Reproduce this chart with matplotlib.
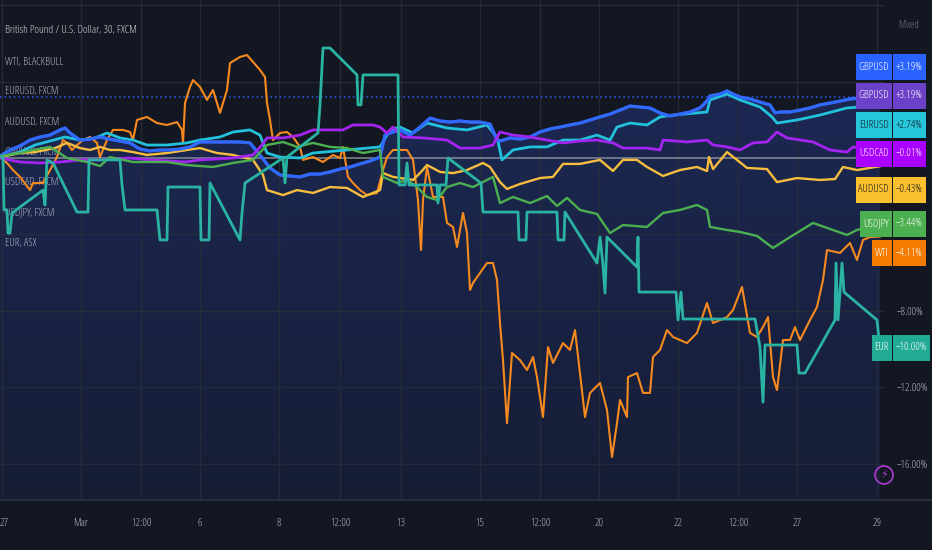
import numpy as np
import matplotlib
matplotlib.use("Agg")
import matplotlib.pyplot as plt
from matplotlib.patches import Rectangle, Ellipse
from matplotlib.lines import Line2D
from matplotlib.colors import to_rgb

# ---------------- data (bar index, % change) ----------------
gbpusd = [(0,0.10),(10,0.42),(20,0.63),(30,0.94),(40,1.10),(50,1.20),(60,1.47),(65,1.57),(70,1.31),
          (80,0.94),(90,0.99),(100,1.10),(110,0.99),(120,0.89),(130,0.79),(140,0.47),(150,0.37),(160,0.42),
          (170,0.42),(180,0.47),(190,0.58),(200,0.84),(210,0.84),(220,0.84),(230,0.84),(240,0.84),(250,0.79),
          (260,0.16),(270,-0.52),(280,-0.89),(290,-0.94),(300,-0.99),(310,-0.84),(320,-0.84),(330,-0.73),
          (340,-0.58),(350,-0.47),(360,-0.31),(370,-0.16),(380,0.05),(385,1.20),(390,1.31),(400,1.47),
          (410,1.20),(420,1.62),(430,2.09),(440,1.94),(450,1.88),(460,1.94),(470,1.88),(480,1.88),(490,1.78),
          (497,0.94),(500,0.89),(510,1.05),(520,0.99),(530,1.10),(540,1.36),(550,1.52),(560,1.62),(570,1.73),
          (580,1.83),(590,1.99),(600,2.15),(610,2.30),(620,2.51),(630,2.72),(640,2.67),(650,2.62),(660,2.36),
          (670,2.20),(680,2.30),(690,2.41),(700,2.62),(708,3.04),(710,3.25),(720,3.35),(727,3.51),(735,3.30),
          (740,3.19),(750,3.09),(760,2.93),(770,2.78),(775,2.36),(780,2.41),(790,2.41),(800,2.51),(810,2.62),
          (820,2.78),(830,2.88),(840,2.98),(850,3.09),(860,3.14),(870,3.19),(880,3.19)]

eurusd = [(0,0.05),(20,0.31),(35,0.68),(50,0.89),(65,1.10),(80,0.94),(95,1.05),(107,1.31),(120,1.05),
          (133,0.94),(147,0.68),(167,0.68),(187,0.79),(200,0.94),(220,1.10),(233,1.36),(250,1.47),(260,1.20),
          (267,0.26),(280,0.05),(300,0.00),(313,0.26),(347,0.42),(380,0.58),(390,1.47),(400,1.62),(413,1.31),
          (427,1.83),(447,1.57),(467,1.47),(487,1.73),(497,1.10),(502,-0.10),(513,0.42),(530,0.58),(547,0.58),
          (563,0.94),(580,0.94),(597,1.20),(610,0.94),(617,1.62),(630,1.83),(647,1.73),(660,2.15),(673,2.25),
          (697,2.36),(707,2.41),(710,3.04),(727,3.35),(740,3.04),(760,2.67),(772,2.15),(777,1.83),(797,1.99),
          (820,2.25),(847,2.62),(860,2.67),(880,2.74)]

usdcad = [(0,0.00),(20,-0.21),(40,-0.26),(60,-0.21),(80,-0.10),(100,-0.10),(130,0.00),(150,-0.10),
          (170,-0.16),(185,-0.21),(200,-0.10),(233,0.00),(253,0.16),(262,0.68),(267,1.05),(283,1.05),
          (300,1.20),(313,1.47),(343,1.47),(353,1.73),(373,1.73),(380,1.62),(387,1.31),(393,1.62),(403,1.10),
          (423,1.05),(447,0.94),(460,0.52),(480,0.52),(493,0.68),(500,1.36),(513,1.20),(530,1.10),(547,0.94),
          (563,0.79),(580,0.89),(597,0.94),(613,0.79),(623,0.52),(647,0.52),(660,0.42),(663,0.94),(687,0.84),
          (707,0.94),(713,0.68),(727,0.58),(740,0.42),(753,0.79),(767,0.84),(777,1.36),(787,1.05),(813,0.84),
          (830,0.42),(847,0.31),(853,0.58),(865,0.42),(880,-0.01)]

audusd = [(0,0.05),(20,0.26),(35,0.31),(55,0.52),(67,0.79),(80,0.52),(90,0.42),(100,0.58),(110,0.42),
          (120,0.42),(133,0.31),(147,0.16),(167,0.26),(187,0.42),(200,0.52),(217,0.26),(233,0.16),(253,-0.10),
          (263,-0.89),(267,-1.68),(283,-1.94),(297,-1.68),(313,-1.83),(330,-1.52),(347,-1.57),(363,-2.04),
          (380,-1.68),(383,-0.79),(393,-0.99),(413,-1.15),(420,-0.79),(427,-0.37),(440,-0.73),(453,-0.79),
          (467,-0.63),(483,-0.26),(490,-0.47),(500,-1.26),(507,-1.62),(520,-1.36),(540,-1.05),(553,-0.99),
          (563,-0.31),(580,-0.31),(600,-0.10),(613,-0.68),(623,-0.10),(637,-0.10),(647,-0.47),(663,-0.94),
          (680,-0.63),(697,-0.47),(707,-0.68),(709,0.05),(713,-0.58),(727,0.31),(737,-0.10),(747,-0.52),
          (767,-0.58),(777,-1.26),(797,-1.05),(820,-1.15),(835,-1.10),(843,-0.47),(857,-0.63),(880,-0.43)]

usdjpy = [(0,0.10),(20,0.26),(33,0.42),(50,0.58),(67,0.00),(87,-0.21),(100,-0.42),(110,0.05),(133,-0.21),
          (167,-0.21),(187,-0.37),(213,-0.47),(233,-0.26),(253,-0.10),(267,0.68),(283,0.84),(297,0.58),
          (313,0.79),(330,0.58),(347,0.52),(363,0.26),(380,0.42),(383,-0.99),(397,-1.31),(407,-1.15),
          (417,-1.52),(427,-2.04),(437,-2.20),(447,-1.52),(460,-1.31),(473,-1.52),(487,-1.15),(493,-0.99),
          (500,-2.36),(513,-2.04),(530,-2.36),(547,-1.99),(557,-2.51),(567,-2.09),(580,-2.72),(597,-2.93),
          (610,-3.93),(623,-3.51),(647,-3.61),(663,-2.88),(680,-2.72),(697,-2.46),(707,-2.72),(710,-3.61),
          (727,-3.77),(740,-3.87),(757,-4.08),(773,-4.71),(787,-4.24),(813,-3.40),(833,-3.77),(847,-4.03),
          (857,-3.77),(880,-3.44)]

wti = [(0,0.05),(7,-0.26),(13,-0.63),(20,-0.99),(30,-1.68),(33,-1.31),(43,-1.31),(50,-0.63),(57,0.05),
       (63,0.94),(67,0.79),(72,0.42),(77,0.68),(83,0.94),(90,1.10),(97,0.79),(100,0.05),(107,0.94),
       (113,1.47),(123,1.47),(130,1.36),(133,0.94),(137,1.99),(147,2.15),(157,1.83),(167,1.73),(177,1.88),
       (182,1.47),(183,0.79),(185,2.88),(190,3.72),(193,4.08),(200,3.72),(207,3.04),(213,3.56),(220,2.36),
       (227,3.56),(230,4.97),(240,5.29),(247,5.39),(253,5.03),(260,4.61),(265,4.24),(267,2.88),(270,1.99),
       (273,0.94),(280,1.31),(287,1.36),(293,1.10),(300,0.58),(303,-0.10),(313,0.05),(323,-0.21),(333,0.16),
       (340,0.00),(343,0.58),(348,-0.99),(353,-1.31),(360,-1.68),(367,-1.94),(377,-1.83),(383,-0.63),
       (387,0.05),(393,0.42),(400,0.42),(407,0.42),(413,-0.10),(418,-2.20),(421,-4.82),(423,-2.20),
       (427,-0.47),(433,-2.04),(443,-2.04),(447,-3.40),(453,-3.61),(457,-4.66),(463,-2.88),(467,-3.93),
       (470,-6.91),(473,-6.54),(487,-5.50),(493,-5.50),(497,-6.39),(500,-8.64),(503,-10.58),(507,-13.88),
       (512,-10.21),(520,-10.58),(527,-11.10),(533,-10.42),(537,-11.47),(543,-13.56),(548,-9.90),
       (553,-10.73),(563,-9.69),(570,-10.05),(575,-9.01),(580,-11.26),(585,-13.56),(590,-12.30),
       (600,-11.78),(607,-13.19),(612,-15.66),(617,-13.88),(620,-12.67),(627,-13.56),(628,-11.47),
       (637,-11.26),(643,-12.30),(650,-12.30),(653,-10.42),(660,-10.05),(667,-9.01),(673,-9.37),(687,-9.69),
       (697,-9.16),(707,-7.59),(713,-8.64),(727,-8.33),(733,-7.96),(742,-6.75),(750,-9.16),(757,-9.37),
       (763,-8.85),(768,-8.33),(773,-11.47),(777,-12.15),(783,-9.53),(790,-9.53),(795,-8.85),(800,-9.53),
       (810,-8.48),(817,-7.80),(823,-6.39),(827,-4.82),(840,-4.97),(850,-4.45),(857,-5.34),(863,-4.29),
       (870,-4.14),(880,-4.11)]

eur_asx = [(0,0.05),(3,0.05),(4,-2.72),(7,-2.72),(8,-3.93),(10,-3.93),(12,-2.88),(43,-1.68),(45,-2.46),
           (47,-0.10),(53,-0.26),(77,-2.83),(88,-2.83),(89,-0.10),(120,-0.10),(122,-1.41),(125,-2.72),
           (157,-2.72),(160,-4.29),(167,-4.29),(168,-1.52),(200,-1.52),(201,-4.29),(209,-4.29),(210,-1.31),
           (240,-4.29),(242,-2.88),(245,-1.31),(283,0.00),(285,-1.31),(287,0.05),(318,1.31),(320,2.78),
           (323,5.76),(330,5.76),(357,4.35),(358,2.78),(361,2.78),(363,4.35),(398,4.35),(399,-1.41),
           (405,-1.41),(407,-0.26),(409,-1.41),(437,-1.41),(438,-2.36),(440,-1.41),(446,-1.41),(448,0.00),
           (481,-1.31),(483,-2.83),(518,-2.83),(519,-4.29),(526,-4.29),(527,-2.83),(557,-2.83),(558,-4.29),
           (564,-4.29),(565,-2.83),(597,-5.50),(600,-4.14),(603,-5.60),(605,-7.07),(607,-4.14),(637,-5.71),
           (638,-4.14),(639,-7.02),(676,-7.02),(678,-8.48),(681,-7.02),(683,-8.43),(755,-8.43),(760,-9.90),
           (763,-12.78),(765,-9.79),(797,-9.79),(799,-11.26),(805,-11.26),(835,-8.48),(836,-5.50),(838,-8.48),
           (842,-5.50),(844,-7.02),(877,-8.48),(880,-10.00)]

legend_titles = ["British Pound / U.S. Dollar, 30, FXCM", "WTI, BLACKBULL", "EURUSD, FXCM", "AUDUSD, FXCM",
                 "GBPUSD, FXCM", "USDCAD, FXCM", "USDJPY, FXCM", "EUR, ASX"]
x_tick_bars = [2, 81, 141, 200, 279, 340, 401, 480, 540, 599, 678, 738, 797, 877]
x_tick_labels = ["27", "Mar", "12:00", "6", "8", "12:00", "13", "15", "12:00", "20", "22", "12:00", "27", "29"]
y_tick_values = [-8, -12, -16]
grid_values = [8, 4, -4, -8, -12, -16]

# ---------------- layout / style ----------------
W, H = 932, 550
BG = '#131722'
FONT = dict(family='Open Sans', stretch='condensed', weight='medium')
ZERO_PX, PX_PER_PCT, PLOT_BOTTOM_PX, PLOT_RIGHT_PX = 158, 19.1, 500, 885
y_top = ZERO_PX / PX_PER_PCT
y_bot = (ZERO_PX - PLOT_BOTTOM_PX) / PX_PER_PCT

fig = plt.figure(figsize=(W / 100, H / 100), dpi=100)
fig.patch.set_facecolor(BG)
ax = fig.add_axes([0, (H - PLOT_BOTTOM_PX) / H, PLOT_RIGHT_PX / W, PLOT_BOTTOM_PX / H])
ax.set_facecolor(BG)
ax.set_xlim(0, PLOT_RIGHT_PX)
ax.set_ylim(y_bot, y_top)
for s in ax.spines.values():
    s.set_visible(False)

def split(series):
    a = np.array(series, dtype=float)
    return a[:, 0], a[:, 1]

gx, gy = split(gbpusd)

# area gradient under main series
poly = ax.fill_between(gx, gy, y_bot, facecolor='none', edgecolor='none')
t = np.linspace(0, 1, 256)[:, None, None]
c_top = np.array(to_rgb('#1e2b5a'))
c_bot = np.array(to_rgb('#161d35'))
img = c_top * (1 - t) + c_bot * t
im = ax.imshow(img, extent=[0, PLOT_RIGHT_PX, y_bot, y_top], aspect='auto', origin='upper', zorder=1)
im.set_clip_path(poly.get_paths()[0], transform=ax.transData)

# grid
for v in grid_values:
    ax.axhline(v, color='#2a2e39', lw=1, alpha=0.8, zorder=1.5)
for b in x_tick_bars:
    ax.axvline(b, color='#2a2e39', lw=1, alpha=0.8, zorder=1.5)
ax.axhline(0, color='#9598a1', lw=1.3, alpha=0.75, zorder=2)
ax.axhline(gy[-1], color='#2962ff', lw=1.1, ls=(0, (1, 2)), zorder=2)

# legend titles (drawn beneath the lines, as in the reference)
legend_rows = [30, 62, 91, 123, 152, 183, 213, 243]
for i, (txt, yy) in enumerate(zip(legend_titles, legend_rows)):
    ax.text(5 / W, 1 - yy / H, txt, transform=fig.transFigure, ha='left', va='center', fontsize=8,
            **FONT, color='#d1d4dc' if i == 0 else '#b2b5be', zorder=2.5, clip_on=False)

# lines
styles = [
    (wti, '#f68a1f', 1.5, 3),
    (eurusd, '#22c1dc', 2.0, 3.1),
    (audusd, '#f6bd3f', 1.7, 3.2),
    (gbpusd, '#6b41c9', 2.0, 3.3),
    (gbpusd, '#2f6bff', 2.3, 3.4),
    (usdcad, '#a424f0', 2.0, 3.5),
    (usdjpy, '#4caf50', 1.7, 3.6),
    (eur_asx, '#2ab3a2', 2.0, 3.7),
]
for series, col, lw, z in styles:
    x, y = split(series)
    ax.plot(x, y, color=col, lw=lw, zorder=z, solid_joinstyle='round')

# axes ticks
ax.set_xticks([])
ax.yaxis.tick_right()
ax.set_yticks(y_tick_values)
ax.set_yticklabels(["\u2212%.2f%%" % abs(v) for v in y_tick_values])
ax.tick_params(axis='y', length=0, pad=8.5, labelsize=8, labelcolor='#b2b5be')
for lab in ax.get_yticklabels():
    lab.set_family(FONT['family'])
    lab.set_stretch(FONT['stretch'])
    lab.set_weight(FONT['weight'])

# bottom separator and time labels
fig.add_artist(Line2D([0, 1], [(H - PLOT_BOTTOM_PX) / H] * 2, color='#2a2e39', lw=1.5))
for i, (b, lab) in enumerate(zip(x_tick_bars, x_tick_labels)):
    xf = ax.transData.transform((b, 0))[0] / W
    if i == 0:
        fig.text(0, 1 - 523 / H, lab, ha='left', va='center', color='#b2b5be', fontsize=8, **FONT)
    else:
        fig.text(xf, 1 - 523 / H, lab, ha='center', va='center', color='#b2b5be', fontsize=8, **FONT)

fig.text(898 / W, 1 - 25 / H, "Mixed", ha='left', va='center', fontsize=7.5, **FONT, color='#787b86')

# badges
def fmt(v):
    return ("+" if v >= 0 else "\u2212") + "%.2f%%" % abs(v)

badges = [
    ("GBPUSD", split(gbpusd)[1][-1], '#2962ff', 'white'),
    ("GBPUSD", split(gbpusd)[1][-1], '#6b41c9', 'white'),
    ("EURUSD", split(eurusd)[1][-1], '#26c6da', '#131722'),
    ("USDCAD", split(usdcad)[1][-1], '#aa00ff', 'white'),
    ("AUDUSD", split(audusd)[1][-1], '#fbc02d', '#131722'),
    ("USDJPY", split(usdjpy)[1][-1], '#4caf50', 'white'),
    ("WTI", split(wti)[1][-1], '#f57c00', 'white'),
    ("EUR", split(eur_asx)[1][-1], '#22ab94', 'white'),
]
badge_rows = [67, 96, 125, 154, 190, 224, 253, 348]
BH = 26
renderer = fig.canvas.get_renderer()
for (name, val, col, tcol), cy in zip(badges, badge_rows):
    yf = 1 - cy / H
    t1 = fig.text(889 / W, yf, name, ha='right', va='center', color=tcol, fontsize=8,
                  **FONT, zorder=31)
    bb = t1.get_window_extent(renderer)
    left = bb.x0 - 3
    fig.add_artist(Rectangle((left / W, yf - BH / 2 / H), (892 - left) / W, BH / H,
                             transform=fig.transFigure, facecolor=col, edgecolor='none', zorder=30))
    t2 = fig.text(896 / W, yf, fmt(val), ha='left', va='center', color=tcol, fontsize=8,
                  **FONT, zorder=31)
    bb2 = t2.get_window_extent(renderer)
    right = max(925, bb2.x1 + 3)
    fig.add_artist(Rectangle((893 / W, yf - BH / 2 / H), (right - 893) / W, BH / H,
                             transform=fig.transFigure, facecolor=col, edgecolor='none', zorder=30))

# lightning icon
fig.add_artist(Ellipse((884 / W, 1 - 475 / H), 18 / W, 18 / H, transform=fig.transFigure,
                       facecolor='none', edgecolor='#b03ad4', lw=1.2, zorder=30))
fig.text(884 / W, 1 - 475 / H, "\u26a1", ha='center', va='center', fontsize=8, color='#b03ad4',
         family=['DejaVu Sans'], zorder=31)

fig.savefig("out.png", dpi=100, facecolor=BG)
